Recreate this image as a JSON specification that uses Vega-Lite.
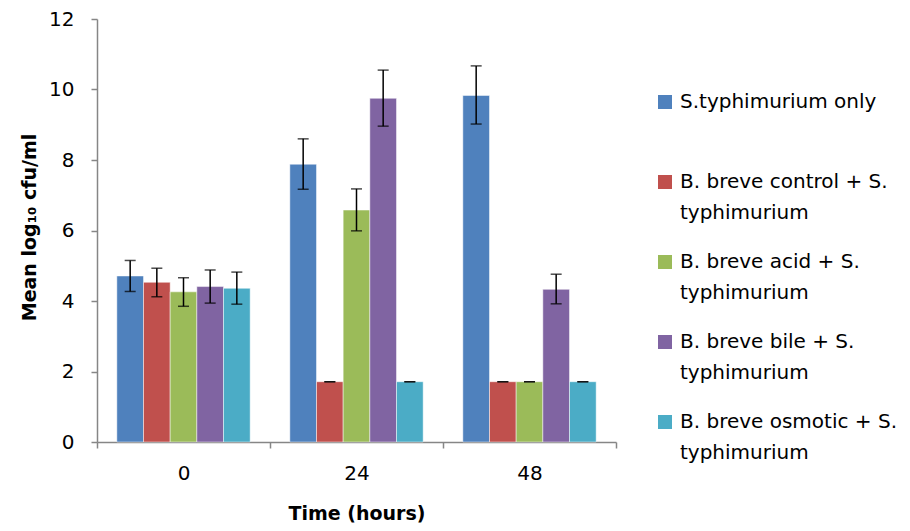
{
  "$schema": "https://vega.github.io/schema/vega-lite/v6.json",
  "width": 519,
  "height": 423,
  "autosize": "none",
  "padding": {"left": 97, "top": 19, "right": 294, "bottom": 89},
  "background": "white",
  "config": {"font": "DejaVu Sans", "view": {"stroke": null}},
  "data": {
    "values": [
      {"time": "0", "group": "S.typhimurium only", "mean": 4.71, "lo": 4.27, "hi": 5.15},
      {"time": "0", "group": "B. breve control + S. typhimurium", "mean": 4.53, "lo": 4.12, "hi": 4.93},
      {"time": "0", "group": "B. breve acid + S. typhimurium", "mean": 4.26, "lo": 3.85, "hi": 4.66},
      {"time": "0", "group": "B. breve bile + S. typhimurium", "mean": 4.41, "lo": 3.94, "hi": 4.88},
      {"time": "0", "group": "B. breve osmotic + S. typhimurium", "mean": 4.36, "lo": 3.91, "hi": 4.82},
      {"time": "24", "group": "S.typhimurium only", "mean": 7.88, "lo": 7.17, "hi": 8.6},
      {"time": "24", "group": "B. breve control + S. typhimurium", "mean": 1.71, "lo": 1.71, "hi": 1.71},
      {"time": "24", "group": "B. breve acid + S. typhimurium", "mean": 6.58, "lo": 5.99, "hi": 7.18},
      {"time": "24", "group": "B. breve bile + S. typhimurium", "mean": 9.75, "lo": 8.96, "hi": 10.55},
      {"time": "24", "group": "B. breve osmotic + S. typhimurium", "mean": 1.71, "lo": 1.71, "hi": 1.71},
      {"time": "48", "group": "S.typhimurium only", "mean": 9.83, "lo": 9.02, "hi": 10.67},
      {"time": "48", "group": "B. breve control + S. typhimurium", "mean": 1.71, "lo": 1.71, "hi": 1.71},
      {"time": "48", "group": "B. breve acid + S. typhimurium", "mean": 1.71, "lo": 1.71, "hi": 1.71},
      {"time": "48", "group": "B. breve bile + S. typhimurium", "mean": 4.33, "lo": 3.92, "hi": 4.76},
      {"time": "48", "group": "B. breve osmotic + S. typhimurium", "mean": 1.71, "lo": 1.71, "hi": 1.71}
    ]
  },
  "encoding": {
    "x": {
      "field": "time",
      "type": "nominal",
      "sort": ["0", "24", "48"],
      "scale": {"paddingInner": 0, "paddingOuter": 0},
      "axis": {
        "labelAngle": 0,
        "labelFontSize": 20,
        "labelColor": "black",
        "labelPadding": 15,
        "tickBand": "extent",
        "tickSize": 6,
        "tickColor": "#868686",
        "domainColor": "#868686",
        "domainWidth": 1.5,
        "tickWidth": 1.5,
        "title": "Time (hours)",
        "titleFontSize": 19,
        "titleFontWeight": "bold",
        "titleColor": "black",
        "titleX": 259.5,
        "titleY": 71,
        "titleBaseline": "middle"
      }
    },
    "xOffset": {
      "field": "group",
      "type": "nominal",
      "sort": ["S.typhimurium only", "B. breve control + S. typhimurium", "B. breve acid + S. typhimurium", "B. breve bile + S. typhimurium", "B. breve osmotic + S. typhimurium"],
      "scale": {"paddingInner": 0, "paddingOuter": 0.744}
    }
  },
  "layer": [
    {
      "mark": {"type": "bar", "stroke": "white", "strokeWidth": 0.8, "strokeOpacity": 0.6},
      "encoding": {
        "y": {
          "field": "mean",
          "type": "quantitative",
          "scale": {"domain": [0, 12], "nice": false},
          "axis": {
            "values": [0, 2, 4, 6, 8, 10, 12],
            "grid": false,
            "labelFontSize": 20,
            "labelColor": "black",
            "labelPadding": 17,
            "tickSize": 6,
            "tickColor": "#868686",
            "tickWidth": 1.5,
            "domainColor": "#868686",
            "domainWidth": 1.5,
            "title": "Mean log₁₀ cfu/ml",
            "titleFontSize": 19,
            "titleFontWeight": "bold",
            "titleColor": "black",
            "titleAngle": 270,
            "titleX": -68,
            "titleY": 208,
            "titleAlign": "center",
            "titleBaseline": "middle"
          }
        },
        "color": {
          "field": "group",
          "type": "nominal",
          "sort": ["S.typhimurium only", "B. breve control + S. typhimurium", "B. breve acid + S. typhimurium", "B. breve bile + S. typhimurium", "B. breve osmotic + S. typhimurium"],
          "scale": {
            "domain": ["S.typhimurium only", "B. breve control + S. typhimurium", "B. breve acid + S. typhimurium", "B. breve bile + S. typhimurium", "B. breve osmotic + S. typhimurium"],
            "range": ["#4F81BD", "#C0504D", "#9BBB59", "#8064A2", "#4BACC6"]
          },
          "legend": {
            "title": null,
            "orient": "none",
            "legendX": 558,
            "legendY": 73,
            "padding": 0,
            "symbolType": "square",
            "symbolSize": 196,
            "symbolStrokeWidth": 0,
            "labelFontSize": 20,
            "labelColor": "black",
            "labelLimit": 400,
            "labelOffset": 5,
            "gridAlign": "all",
            "rowPadding": 29,
            "encoding": {"labels": {"lineHeight": {"value": 31}}},
            "labelExpr": "datum.label == 'S.typhimurium only' ? datum.label : [replace(datum.label, ' typhimurium', ''), 'typhimurium']"
          }
        }
      }
    },
    {
      "mark": {"type": "rule", "color": "black", "strokeWidth": 1.5},
      "encoding": {
        "y": {"field": "lo", "type": "quantitative"},
        "y2": {"field": "hi"}
      }
    },
    {
      "mark": {"type": "tick", "color": "black", "thickness": 1.5, "size": 11, "orient": "horizontal"},
      "encoding": {"y": {"field": "lo", "type": "quantitative"}}
    },
    {
      "mark": {"type": "tick", "color": "black", "thickness": 1.5, "size": 11, "orient": "horizontal"},
      "encoding": {"y": {"field": "hi", "type": "quantitative"}}
    }
  ]
}
